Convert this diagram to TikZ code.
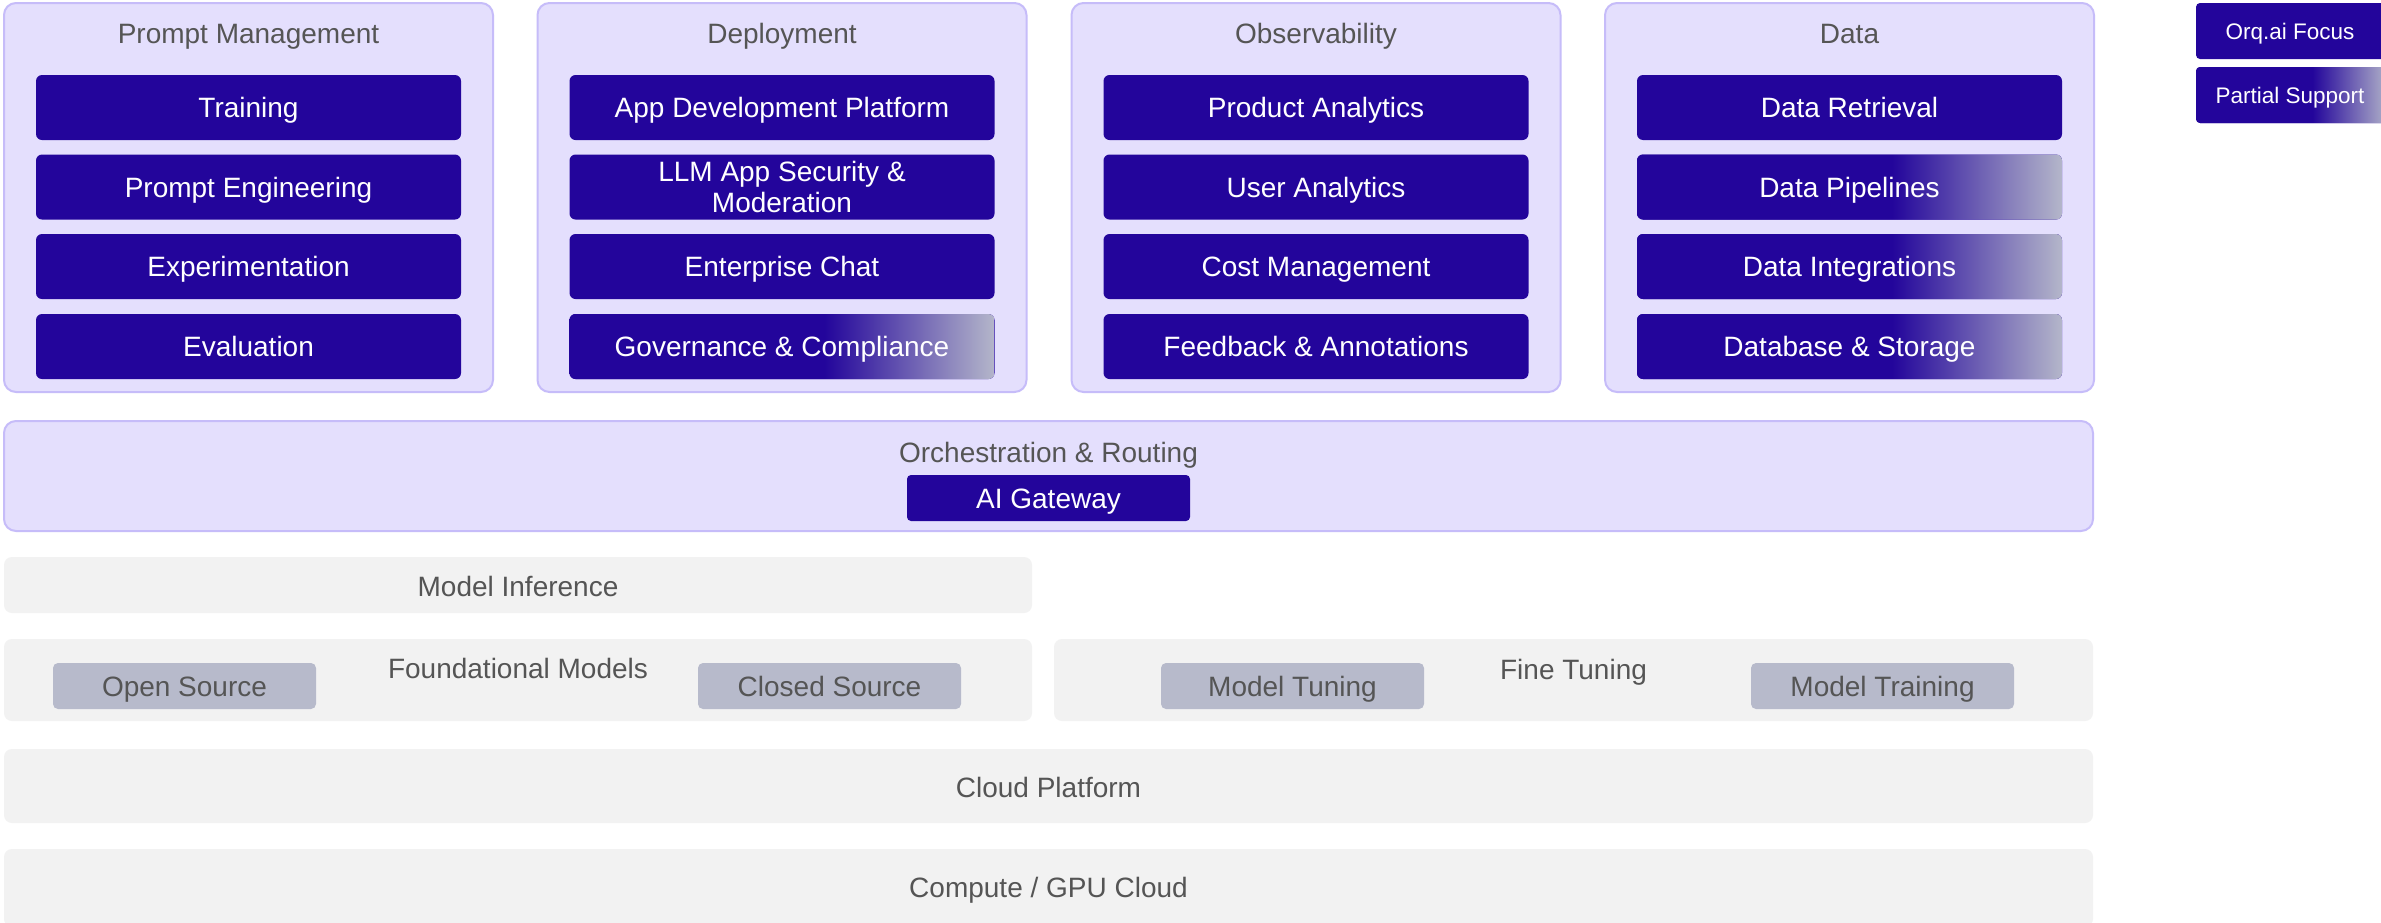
\documentclass[tikz,border=0pt]{standalone}
\usepackage{fontspec}
\setmainfont{Liberation Sans}
\definecolor{dk}{RGB}{35,5,155}
\definecolor{gy}{RGB}{180,182,202}
\definecolor{lav}{RGB}{228,223,253}
\definecolor{lavb}{RGB}{198,188,249}
\definecolor{gpan}{RGB}{242,242,242}
\definecolor{gbox}{RGB}{183,186,203}
\definecolor{tg}{RGB}{85,85,85}
\pgfdeclarehorizontalshading{partialsh}{100bp}{color(0bp)=(dk); color(55bp)=(dk); color(75bp)=(gy); color(100bp)=(gy)}
\newcommand{\myfs}{\fontsize{28}{31}\selectfont}
\newcommand{\mylg}{\fontsize{22.5}{26}\selectfont}
\begin{document}
\begin{tikzpicture}[x=1pt,y=-1pt,
  panel/.style={draw=lavb, line width=2pt, fill=lav, rounded corners=12pt, minimum width=489pt, minimum height=389pt, inner sep=0pt},
  ttl/.style={text=tg, font=\myfs, inner sep=0pt, text height=20pt, text depth=0pt},
  box/.style={fill=dk, text=white, font=\myfs, rounded corners=6pt, minimum width=425pt, minimum height=65pt, inner sep=0pt, align=center},
  one/.style={text height=20pt, text depth=0pt},
  part/.style={box, shade, shading=partialsh, shading angle=0},
  gpanel/.style={fill=gpan, rounded corners=8pt, inner sep=0pt},
  gbox/.style={fill=gbox, text=tg, font=\myfs, rounded corners=5pt, minimum width=263pt, minimum height=46pt, inner sep=0pt, text height=20pt, text depth=0pt},
  leg/.style={fill=dk, text=white, font=\mylg, rounded corners=4pt, minimum width=194pt, minimum height=56pt, inner sep=0pt, text height=16pt, text depth=0pt}
]
\clip (0,0) rectangle (2381,922);
\fill[white] (0,0) rectangle (2381,922);

% ---- top panels
\node[panel] (pm) at (248.5,197.5) {};
\node[panel] (dp) at (782,197.5) {};
\node[panel] (ob) at (1316,197.5) {};
\node[panel] (da) at (1849.5,197.5) {};

\node[ttl] (pmt) at (248.5,33) {Prompt Management};
\node[ttl] (dpt) at (782,33) {Deployment};
\node[ttl] (obt) at (1316,33) {Observability};
\node[ttl] (dat) at (1849.5,33) {Data};

\node[box,one] (pm1) at (248.5,107.5) {Training};
\node[box,one] (pm2) at (248.5,187) {Prompt Engineering};
\node[box,one] (pm3) at (248.5,266.5) {Experimentation};
\node[box,one] (pm4) at (248.5,346.5) {Evaluation};

\node[box,one] (dp1) at (782,107.5) {App Development Platform};
\node[box] (dp2) at (782,187) {LLM App Security \&\\Moderation};
\node[box,one] (dp3) at (782,266.5) {Enterprise Chat};
\node[part,one] (dp4) at (782,346.5) {Governance \& Compliance};

\node[box,one] (ob1) at (1316,107.5) {Product Analytics};
\node[box,one] (ob2) at (1316,187) {User Analytics};
\node[box,one] (ob3) at (1316,266.5) {Cost Management};
\node[box,one] (ob4) at (1316,346.5) {Feedback \& Annotations};

\node[box,one] (da1) at (1849.5,107.5) {Data Retrieval};
\node[part,one] (da2) at (1849.5,187) {Data Pipelines};
\node[part,one] (da3) at (1849.5,266.5) {Data Integrations};
\node[part,one] (da4) at (1849.5,346.5) {Database \& Storage};

% ---- orchestration
\node[panel, minimum width=2089pt, minimum height=110pt] (orc) at (1048.5,476) {};
\node[ttl] (orct) at (1048.5,452) {Orchestration \& Routing};
\node[box, one, minimum width=283pt, minimum height=46pt, rounded corners=4pt] (gw) at (1048.5,498) {AI Gateway};

% ---- grey layers
\node[gpanel, minimum width=1028pt, minimum height=56pt] (mi) at (518,585) {};
\node[ttl] (mit) at (518,586) {Model Inference};

\node[gpanel, minimum width=1028pt, minimum height=82pt] (fm) at (518,680) {};
\node[ttl] (fmt) at (518,668) {Foundational Models};
\node[gbox] (os) at (184.5,686) {Open Source};
\node[gbox] (cs) at (829.5,686) {Closed Source};

\node[gpanel, minimum width=1039pt, minimum height=82pt] (ft) at (1573.5,680) {};
\node[ttl] (ftt) at (1573.5,669) {Fine Tuning};
\node[gbox] (mtu) at (1292.5,686) {Model Tuning};
\node[gbox] (mtr) at (1882.5,686) {Model Training};

\node[gpanel, minimum width=2089pt, minimum height=74pt] (cp) at (1048.5,786) {};
\node[ttl] (cpt) at (1048.5,787) {Cloud Platform};

\node[gpanel, minimum width=2089pt, minimum height=78pt] (gpu) at (1048.5,888) {};
\node[ttl] (gput) at (1048.5,887) {Compute / GPU Cloud};

% ---- legend
\node[leg] (lg1) at (2293,31) {\hspace*{-6pt}Orq.ai Focus};
\node[leg, shade, shading=partialsh, shading angle=0] (lg2) at (2293,95) {\hspace*{-6pt}Partial Support};
\end{tikzpicture}
\end{document}
